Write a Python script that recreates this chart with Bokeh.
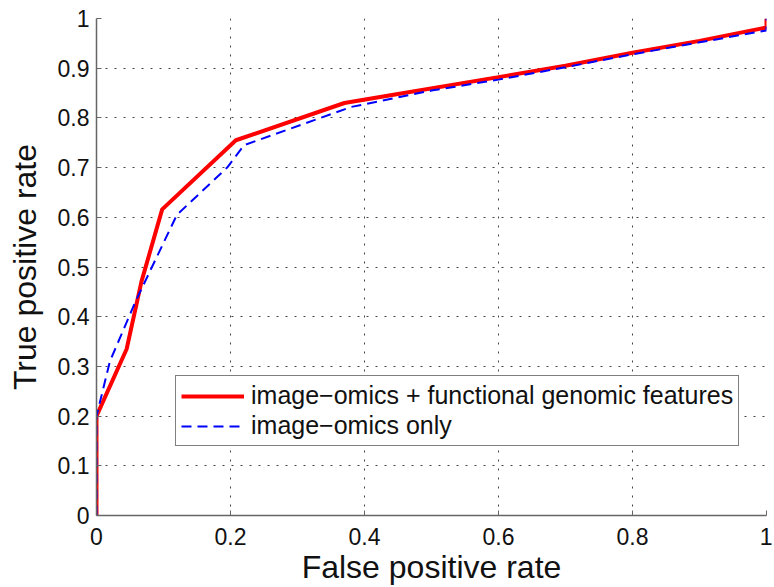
from bokeh.plotting import figure
from bokeh.models import Range1d, FixedTicker, CustomJSTickFormatter, Legend, LegendItem
from bokeh.embed import file_html
from bokeh.resources import INLINE

# ROC data
fpr_combined = [0, 0, 0.045, 0.067, 0.098, 0.208, 0.37, 0.45, 0.6, 0.7, 0.8, 0.9, 1.0, 1.0]
tpr_combined = [0, 0.2, 0.335, 0.47, 0.616, 0.755, 0.83, 0.848, 0.882, 0.905, 0.931, 0.955, 0.982, 1.0]

fpr_image = [0, 0, 0.02, 0.058, 0.12, 0.195, 0.22, 0.38, 0.5, 0.6, 0.7, 0.8, 0.9, 1.0, 1.0]
tpr_image = [0, 0.2, 0.31, 0.43, 0.605, 0.70, 0.745, 0.822, 0.855, 0.877, 0.902, 0.928, 0.952, 0.976, 1.0]

x_ticks = [0, 0.2, 0.4, 0.6, 0.8, 1]
y_ticks = [0, 0.1, 0.2, 0.3, 0.4, 0.5, 0.6, 0.7, 0.8, 0.9, 1]

label_combined = "image\u2212omics + functional genomic features"
label_image = "image\u2212omics only"
x_label = "False positive rate"
y_label = "True positive rate"

FONT = "Liberation Sans"

p = figure(frame_width=670, frame_height=497,
           x_range=Range1d(0, 1), y_range=Range1d(0, 1),
           output_backend="svg", toolbar_location=None,
           min_border_left=96, min_border_top=18, min_border_right=6, min_border_bottom=20)
p.outline_line_color = None
p.background_fill_color = "white"
p.border_fill_color = "white"

fmt = CustomJSTickFormatter(code="return String(Math.round(tick*10)/10);")
for ax, ticks, label in ((p.xaxis[0], x_ticks, x_label), (p.yaxis[0], y_ticks, y_label)):
    ax.ticker = FixedTicker(ticks=ticks)
    ax.formatter = fmt
    ax.minor_tick_line_color = None
    ax.major_tick_in = 5
    ax.major_tick_out = 0
    ax.major_tick_line_color = "#666666"
    ax.axis_line_color = "#666666"
    ax.axis_line_width = 1.5
    ax.major_label_text_font = FONT
    ax.major_label_text_font_size = "23px"
    ax.major_label_text_color = "#111111"
    ax.axis_label = label
    ax.axis_label_text_font = FONT
    ax.axis_label_text_font_size = "32px"
    ax.axis_label_text_font_style = "normal"
    ax.axis_label_text_color = "#111111"

p.xaxis[0].major_label_standoff = 12
p.xaxis[0].axis_label_standoff = 1
p.yaxis[0].major_label_standoff = 7
p.yaxis[0].axis_label_standoff = 12

for g in (p.xgrid[0], p.ygrid[0]):
    g.grid_line_color = "#444444"
    g.grid_line_dash = "2 7"
    g.grid_line_width = 1
p.xgrid[0].ticker = FixedTicker(ticks=x_ticks)
p.ygrid[0].ticker = FixedTicker(ticks=y_ticks)

r1 = p.line(fpr_combined, tpr_combined, line_color="#ff0000", line_width=4)
r2 = p.line(fpr_image, tpr_image, line_color="#0000ff", line_width=2, line_dash="10 6")

legend = Legend(items=[LegendItem(label=label_combined, renderers=[r1]),
                       LegendItem(label=label_image, renderers=[r2])],
                location=(79, 69))
legend.border_line_color = "#000000"
legend.border_line_width = 1
legend.background_fill_color = "white"
legend.background_fill_alpha = 1
legend.label_text_font = FONT
legend.label_text_font_size = "25px"
legend.label_text_color = "#111111"
legend.glyph_width = 63
legend.glyph_height = 26
legend.label_height = 26
legend.label_standoff = 7
legend.spacing = 1
legend.padding = 5
legend.margin = 0
p.add_layout(legend)

open("out.html", "w").write(file_html(p, INLINE))
